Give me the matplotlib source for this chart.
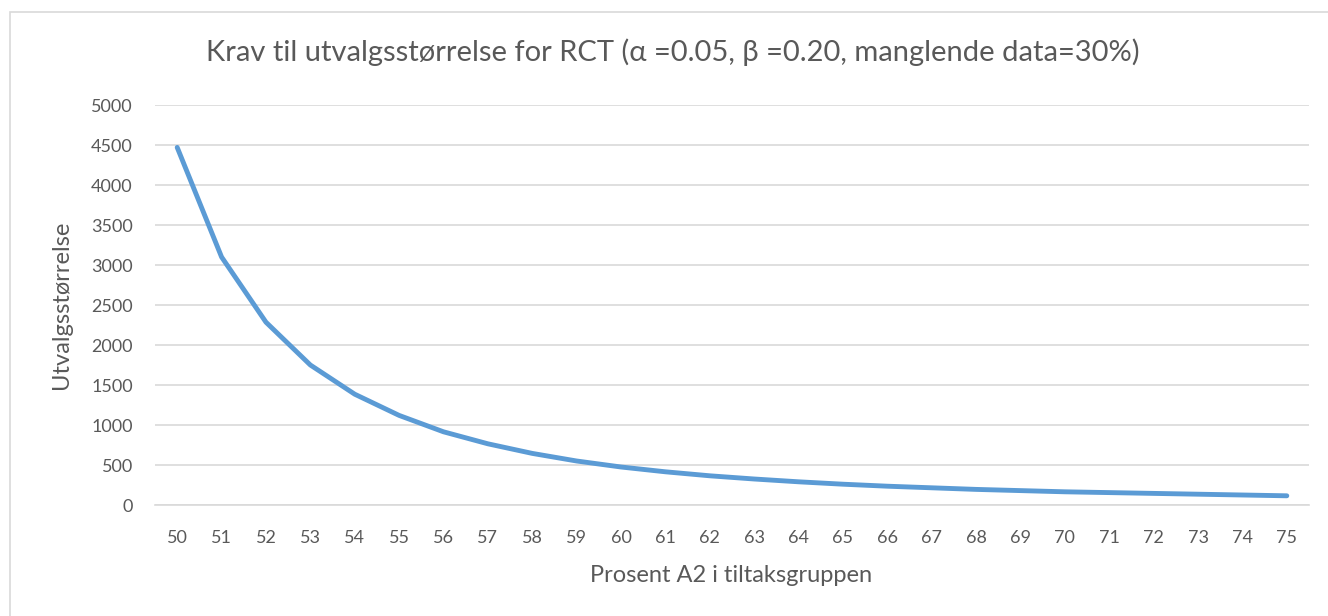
import matplotlib.pyplot as plt
from matplotlib.patches import Rectangle

# prosent A2 i tiltaksgruppen
prosent = list(range(50, 76))
# utvalgsstørrelse
utvalg = [4470, 3100, 2285, 1750, 1385, 1120, 915, 765, 645, 550,
          475, 415, 365, 325, 290, 260, 235, 215, 195, 180,
          165, 155, 145, 135, 125, 115]
y_ticks = list(range(0, 5001, 500))

plt.rcParams['font.family'] = ['Lato', 'DejaVu Sans']
txt = '#595959'
grid = '#d9d9d9'

fig = plt.figure(figsize=(13.28, 6.16), dpi=100)
ax = fig.add_axes([155 / 1328, 1 - 505 / 616, 1154 / 1328, 400 / 616])

# chart area border
fig.patches.append(Rectangle((10 / 1328, -0.01), 1.0, 1 - 12 / 616 + 0.01,
                             transform=fig.transFigure, fill=False,
                             edgecolor=grid, linewidth=1.2))

ax.plot(prosent, utvalg, color='#5b9bd5', linewidth=3.5,
        solid_capstyle='round', solid_joinstyle='round')

ax.set_xlim(49.5, 75.5)
ax.set_ylim(0, 5000)
ax.set_xticks(prosent)
ax.set_yticks(y_ticks)
ax.grid(axis='y', color=grid, linewidth=1.2)
ax.set_axisbelow(True)
for s in ['top', 'right', 'left']:
    ax.spines[s].set_visible(False)
ax.spines['bottom'].set_color(grid)
ax.spines['bottom'].set_linewidth(1.2)
ax.tick_params(length=0, labelsize=13, labelcolor=txt)
ax.tick_params(axis='x', pad=18)
ax.tick_params(axis='y', pad=16)

ax.set_xlabel('Prosent A2 i tiltaksgruppen', fontsize=17, color=txt)
ax.set_ylabel('Utvalgsstørrelse', fontsize=17, color=txt)
ax.xaxis.set_label_coords(731 / 1328, 1 - 576 / 616, transform=fig.transFigure)
ax.yaxis.set_label_coords(62 / 1328, 1 - 305 / 616, transform=fig.transFigure)
ax.xaxis.label.set_va('center')
ax.yaxis.label.set_va('center')

fig.text(673 / 1328, 1 - 52 / 616,
         'Krav til utvalgsstørrelse for RCT (α =0.05, β =0.20, manglende data=30%)',
         ha='center', va='center', fontsize=21, color=txt)

fig.savefig('out.png', dpi=100)
